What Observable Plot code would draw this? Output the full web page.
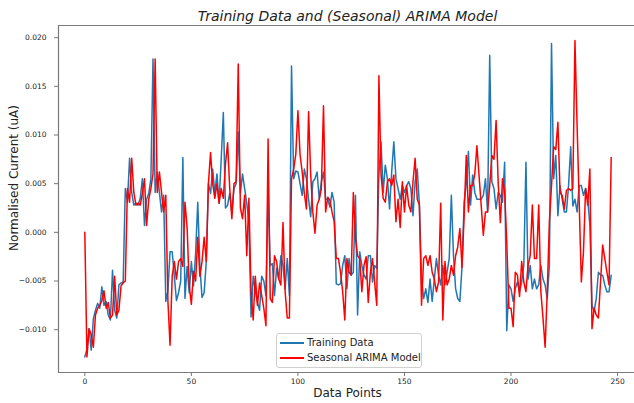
<!DOCTYPE html>
<html>
<head>
<meta charset="utf-8">
<script src="https://cdn.jsdelivr.net/npm/d3@7"></script>
<script src="https://cdn.jsdelivr.net/npm/@observablehq/plot@0.6"></script>
<style>
  html, body { margin: 0; padding: 0; background: #fff; }
  #wrap { position: relative; width: 634px; height: 403px; overflow: hidden; font-family: "DejaVu Sans", sans-serif; }
  #wrap svg { position: absolute; left: 0; top: 0; }
  .legend { position: absolute; left: 276px; top: 333px; width: 146px; height: 35px; box-sizing: border-box;
            border: 1px solid #d0d0d0; border-radius: 3px; background: rgba(255,255,255,0.85); }
  .legend .row { position: absolute; left: 0; height: 14px; width: 100%; }
  .legend .sw { position: absolute; left: 3px; top: 6px; width: 24px; height: 2px; }
  .legend .lb { position: absolute; left: 30px; top: 0; font-size: 10px; line-height: 14px; color: #222; white-space: nowrap; }
</style>
</head>
<body>
<div id="wrap"></div>
<script>
// ---- data ----
const title = "Training Data and (Seasonal) ARIMA Model";
const xLabel = "Data Points";
const yLabel = "Normalised Current (uA)";
const seriesNames = ["Training Data", "Seasonal ARIMA Model"];
const seriesColors = ["#1f77b4", "#ff0000"];
const xTicks = [0, 50, 100, 150, 200, 250];
const yTicks = [-0.010, -0.005, 0.000, 0.005, 0.010, 0.015, 0.020];

const training = [
 -0.0128,-0.0120,-0.0099,-0.0121,-0.0089,-0.0080,-0.0073,-0.0078,-0.0056,-0.0075,
 -0.0071,-0.0085,-0.0090,-0.0039,-0.0080,-0.0088,-0.0054,-0.0052,-0.0051,0.0045,
 0.0031,0.0076,0.0041,0.0028,0.0030,0.0028,0.0035,0.0055,0.0007,0.0034,
 0.0040,0.0055,0.0178,0.0041,0.0062,0.0041,0.0021,0.0038,-0.0071,-0.0060,
 -0.0020,-0.0020,-0.0045,-0.0070,-0.0062,-0.0050,0.0077,-0.0068,-0.0035,-0.0062,
 -0.0030,-0.0055,-0.0021,0.0031,-0.0035,-0.0067,-0.0062,-0.0030,0.0050,0.0040,
 0.0065,0.0040,0.0060,0.0030,0.0075,0.0123,0.0025,0.0028,0.0040,0.0020,
 0.0045,0.0050,0.0103,0.0040,0.0060,0.0045,0.0030,0.0010,-0.0087,-0.0045,
 -0.0060,-0.0072,-0.0080,-0.0045,-0.0050,-0.0065,0.0045,-0.0034,-0.0032,-0.0065,
 -0.0037,-0.0048,-0.0024,-0.0034,-0.0058,-0.0027,-0.0065,0.0171,0.0055,0.0063,
 0.0062,0.0050,0.0038,0.0065,0.0055,0.0034,0.0016,0.0052,0.0055,0.0062,
 0.0034,0.0052,0.0062,0.0034,0.0034,0.0026,0.0041,0.0031,-0.0053,-0.0054,
 -0.0053,-0.0034,-0.0024,-0.0058,-0.0027,-0.0044,-0.0041,0.0038,-0.0085,-0.0020,
 -0.0034,-0.0044,-0.0048,-0.0024,-0.0024,-0.0051,-0.0034,-0.0037,0.0059,0.0093,
 0.0041,0.0069,0.0055,0.0024,0.0062,0.0093,0.0055,0.0045,0.0034,0.0048,
 0.0041,0.0048,0.0052,0.0045,0.0017,0.0052,0.0065,0.0028,-0.0048,-0.0068,
 -0.0058,-0.0072,-0.0048,-0.0071,-0.0048,-0.0027,-0.0044,-0.0054,-0.0034,-0.0054,
 -0.0041,-0.0027,0.0038,-0.0024,-0.0058,-0.0068,-0.0071,-0.0035,0.0031,0.0050,
 0.0083,0.0028,0.0059,0.0041,0.0034,0.0034,0.0034,0.0038,0.0055,0.0021,
 0.0182,0.0052,0.0045,0.0024,0.0041,0.0038,0.0031,0.0072,-0.0101,-0.0054,
 -0.0058,-0.0071,-0.0058,-0.0051,-0.0061,-0.0051,-0.0034,0.0072,-0.0048,-0.0034,
 -0.0058,-0.0048,-0.0058,-0.0054,-0.0034,-0.0048,-0.0054,-0.0068,-0.0034,0.0194,
 0.0055,0.0079,0.0017,0.0048,0.0034,0.0021,0.0021,0.0048,0.0088,0.0027,
 0.0034,0.0021,0.0048,0.0048,0.0038,0.0045,0.0034,0.0007,-0.0075,-0.0081,
 -0.0068,-0.0041,-0.0044,-0.0044,-0.0054,-0.0061,-0.0061,-0.0044
];

const arima = [
 0.0000,-0.0128,-0.0099,-0.0105,-0.0118,-0.0085,-0.0078,-0.0075,-0.0070,-0.0060,
 -0.0078,-0.0072,-0.0088,-0.0085,-0.0045,-0.0085,-0.0080,-0.0055,-0.0052,-0.0050,
 0.0045,0.0031,0.0076,0.0041,0.0028,0.0030,0.0028,0.0040,0.0055,0.0007,
 0.0034,0.0045,0.0060,0.0178,0.0041,0.0062,0.0041,0.0021,0.0038,-0.0071,
 -0.0116,-0.0045,-0.0030,-0.0048,-0.0030,-0.0027,-0.0035,0.0031,0.0005,-0.0055,
 -0.0074,-0.0040,-0.0050,-0.0005,-0.0045,-0.0030,-0.0005,-0.0030,0.0050,0.0082,
 0.0050,0.0035,0.0050,0.0030,0.0045,0.0035,0.0070,0.0092,0.0045,0.0014,
 0.0050,0.0052,0.0173,0.0025,0.0014,0.0038,-0.0024,0.0035,-0.0060,-0.0090,
 -0.0045,-0.0075,-0.0052,-0.0065,-0.0078,-0.0096,0.0096,-0.0068,-0.0072,-0.0024,
 -0.0030,-0.0048,-0.0054,0.0010,-0.0061,-0.0088,-0.0088,0.0055,0.0065,0.0080,
 0.0125,0.0080,0.0062,0.0040,0.0024,0.0124,0.0059,0.0021,-0.0001,0.0028,
 0.0034,0.0045,0.0130,0.0021,0.0036,0.0033,0.0021,0.0011,-0.0027,-0.0027,
 -0.0041,-0.0061,-0.0090,-0.0027,-0.0041,-0.0044,0.0041,-0.0006,-0.0024,-0.0027,
 -0.0061,-0.0034,-0.0025,-0.0072,-0.0041,-0.0027,-0.0051,-0.0075,0.0161,0.0059,
 0.0035,0.0031,0.0052,0.0055,0.0048,0.0059,0.0011,0.0034,0.0005,0.0052,
 0.0021,0.0048,0.0028,0.0021,0.0052,0.0076,0.0034,0.0028,-0.0075,-0.0027,
 -0.0024,-0.0034,-0.0024,-0.0041,-0.0048,-0.0061,-0.0051,0.0030,-0.0090,-0.0030,
 -0.0054,-0.0048,-0.0034,-0.0044,-0.0024,-0.0015,0.0004,-0.0036,0.0017,0.0079,
 0.0021,0.0048,0.0048,0.0060,0.0089,0.0058,0.0028,-0.0003,0.0021,0.0021,
 0.0048,0.0079,0.0075,0.0115,0.0050,0.0010,0.0055,0.0042,-0.0010,-0.0078,
 -0.0078,-0.0097,-0.0041,-0.0044,-0.0066,-0.0030,-0.0051,-0.0061,-0.0034,-0.0024,
 0.0028,-0.0027,-0.0027,0.0028,-0.0061,-0.0088,-0.0118,-0.0061,0.0011,0.0048,
 0.0088,0.0085,0.0113,0.0041,0.0038,0.0024,0.0043,0.0045,0.0043,0.0045,
 0.0197,0.0110,0.0030,-0.0051,-0.0020,0.0045,0.0028,0.0065,-0.0099,-0.0078,
 -0.0085,-0.0088,-0.0051,-0.0013,-0.0027,-0.0041,-0.0054,0.0077
];

// ---- chart ----
const xDomain = [-12.35, 259.35];
const yDomain = [-0.0144, 0.02125];
const spine = "#7a7a7a";

const chart = Plot.plot({
  width: 634,
  height: 403,
  marginLeft: 58,
  marginRight: 0,
  marginTop: 25,
  marginBottom: 31,
  style: { fontFamily: "DejaVu Sans, sans-serif", background: "white", color: "#222" },
  x: { domain: xDomain, range: [58, 637] },
  y: { domain: yDomain },
  marks: [
    Plot.ruleY([yDomain[0]], { stroke: spine, strokeWidth: 1.2 }),
    Plot.ruleY([yDomain[1]], { stroke: spine, strokeWidth: 1 }),
    Plot.ruleX([xDomain[0]], { stroke: spine, strokeWidth: 1.2 }),
    Plot.axisX(xTicks, { tickSize: 4, tickPadding: 2, fontSize: 7.5, label: null, stroke: spine }),
    Plot.axisY(yTicks, { tickSize: 4, tickPadding: 8, fontSize: 7.5, label: null, stroke: spine, tickFormat: d3.format(".3f") }),
    Plot.lineY(training, { stroke: seriesColors[0], strokeWidth: 1.5 }),
    Plot.lineY(arima, { stroke: seriesColors[1], strokeWidth: 1.5 }),
    Plot.text([title], { frameAnchor: "top", dx: 1, dy: -14, fontSize: 14, fontStyle: "italic", fill: "#222" }),
    Plot.text([xLabel], { frameAnchor: "bottom", dx: 1, dy: 24, fontSize: 12, fill: "#222" }),
    Plot.text([yLabel], { frameAnchor: "left", textAnchor: "middle", rotate: -90, dx: -44, dy: -21, fontSize: 12, fill: "#222" })
  ]
});

const wrap = document.getElementById("wrap");
wrap.appendChild(chart);

// legend
const legend = document.createElement("div");
legend.className = "legend";
seriesNames.forEach((name, k) => {
  const row = document.createElement("div");
  row.className = "row";
  row.style.top = (2 + k * 15) + "px";
  const sw = document.createElement("div");
  sw.className = "sw";
  sw.style.background = seriesColors[k];
  const lb = document.createElement("div");
  lb.className = "lb";
  lb.textContent = name;
  row.appendChild(sw);
  row.appendChild(lb);
  legend.appendChild(row);
});
wrap.appendChild(legend);
</script>
</body>
</html>
